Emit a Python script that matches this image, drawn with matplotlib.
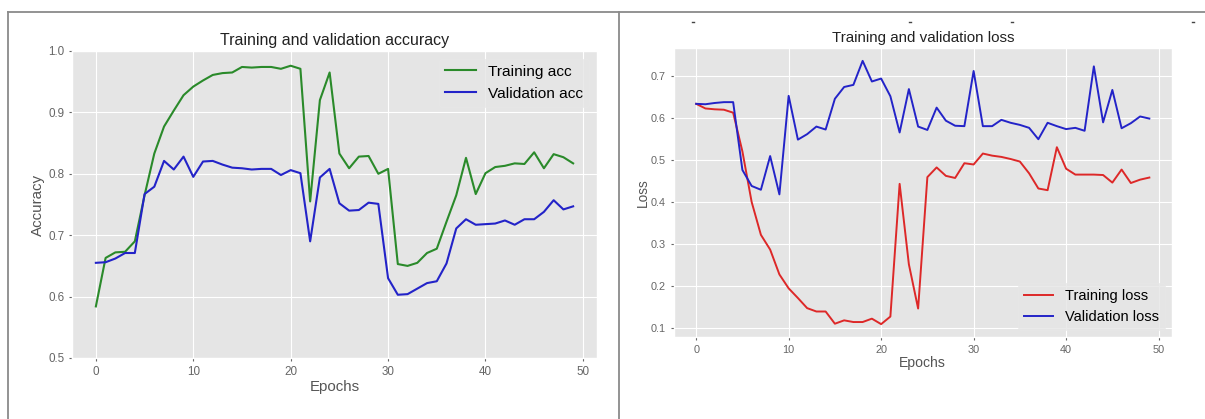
import matplotlib
matplotlib.use("Agg")
import matplotlib.pyplot as plt
from matplotlib.lines import Line2D

epochs = list(range(50))

train_acc = [0.584, 0.663, 0.672, 0.673, 0.690, 0.765, 0.833, 0.877, 0.903, 0.928,
             0.942, 0.952, 0.961, 0.964, 0.965, 0.974, 0.973, 0.974, 0.974, 0.971,
             0.976, 0.971, 0.755, 0.920, 0.965, 0.833, 0.809, 0.828, 0.829, 0.800,
             0.808, 0.653, 0.650, 0.655, 0.671, 0.678, 0.722, 0.765, 0.826, 0.767,
             0.801, 0.811, 0.813, 0.817, 0.816, 0.835, 0.809, 0.832, 0.827, 0.817]

val_acc = [0.655, 0.656, 0.662, 0.671, 0.671, 0.767, 0.779, 0.821, 0.807, 0.828,
           0.795, 0.820, 0.821, 0.815, 0.810, 0.809, 0.807, 0.808, 0.808, 0.798,
           0.806, 0.801, 0.690, 0.794, 0.808, 0.752, 0.740, 0.741, 0.753, 0.751,
           0.630, 0.603, 0.604, 0.613, 0.622, 0.625, 0.654, 0.711, 0.726, 0.717,
           0.718, 0.719, 0.724, 0.717, 0.726, 0.726, 0.738, 0.757, 0.742, 0.747]

train_loss = [0.633, 0.622, 0.620, 0.619, 0.612, 0.520, 0.400, 0.322, 0.287, 0.228,
              0.195, 0.172, 0.148, 0.140, 0.140, 0.111, 0.119, 0.115, 0.115, 0.123,
              0.110, 0.128, 0.443, 0.252, 0.147, 0.459, 0.482, 0.462, 0.457, 0.492,
              0.489, 0.515, 0.510, 0.507, 0.502, 0.496, 0.468, 0.432, 0.428, 0.530,
              0.479, 0.465, 0.465, 0.465, 0.464, 0.446, 0.477, 0.445, 0.453, 0.458]

val_loss = [0.633, 0.632, 0.635, 0.637, 0.637, 0.476, 0.438, 0.429, 0.509, 0.418,
            0.652, 0.548, 0.561, 0.579, 0.572, 0.645, 0.673, 0.678, 0.735, 0.686,
            0.693, 0.651, 0.565, 0.668, 0.579, 0.571, 0.624, 0.593, 0.581, 0.580,
            0.711, 0.580, 0.580, 0.595, 0.588, 0.583, 0.576, 0.549, 0.588, 0.580,
            0.573, 0.576, 0.569, 0.722, 0.589, 0.666, 0.575, 0.587, 0.603, 0.598]

plt.style.use("ggplot")
plt.rcParams["font.family"] = ["Liberation Sans", "DejaVu Sans"]

W, H = 1205, 419
fig = plt.figure(figsize=(W / 100, H / 100), dpi=100)

GREEN = "#2a8a2a"
BLUE = "#2323c8"
RED = "#dd2828"


def rect(x0, y0, x1, y1):
    return [x0 / W, 1 - y1 / H, (x1 - x0) / W, (y1 - y0) / H]


# ---- left: accuracy ----
ax1 = fig.add_axes(rect(72, 51, 597, 358))
ax1.plot(epochs, train_acc, color=GREEN, lw=1.5, label="Training acc")
ax1.plot(epochs, val_acc, color=BLUE, lw=1.5, label="Validation acc")
ax1.set_ylim(0.5, 1.0)
ax1.set_title("Training and validation accuracy", fontsize=11.5, color="#222222", pad=4)
ax1.set_xlabel("Epochs", fontsize=10.8, color="#555555", labelpad=2)
ax1.set_ylabel("Accuracy", fontsize=10.9, color="#555555", labelpad=2)
ax1.tick_params(labelsize=8.4, length=2.5, pad=3, colors="#666666")
leg1 = ax1.legend(loc="upper right", fontsize=11.1)
leg1.get_frame().set_edgecolor("#e8e8e8")

# ---- right: loss ----
ax2 = fig.add_axes(rect(673.5, 47.7, 1172, 337.3))
ax2.plot(epochs, train_loss, color=RED, lw=1.4, label="Training loss")
ax2.plot(epochs, val_loss, color=BLUE, lw=1.4, label="Validation loss")
ax2.set_title("Training and validation loss", fontsize=10.9, color="#222222", pad=4)
ax2.set_xlabel("Epochs", fontsize=10.1, color="#555555", labelpad=1)
ax2.set_ylabel("Loss", fontsize=9.8, color="#555555", labelpad=0.5)
ax2.tick_params(labelsize=7.8, length=2.5, pad=3, colors="#666666")
leg2 = ax2.legend(loc="lower right", fontsize=10.5)
leg2.get_frame().set_edgecolor("#e8e8e8")

# ---- screenshot frame lines ----
def fline(xs, ys, color="#8a8a8a", lw=1.3):
    fig.add_artist(Line2D([x / W for x in xs], [1 - y / H for y in ys],
                          transform=fig.transFigure, color=color, lw=lw))

fline([8, 8], [12, H])
fline([8, W], [12, 12])
fline([618.5, 618.5], [12, H])
for xd in [693, 910, 1012, 1193]:
    fline([xd - 1.2, xd + 1.2], [22, 22], color="#444444", lw=1.0)

fig.savefig("out.png", dpi=100)
